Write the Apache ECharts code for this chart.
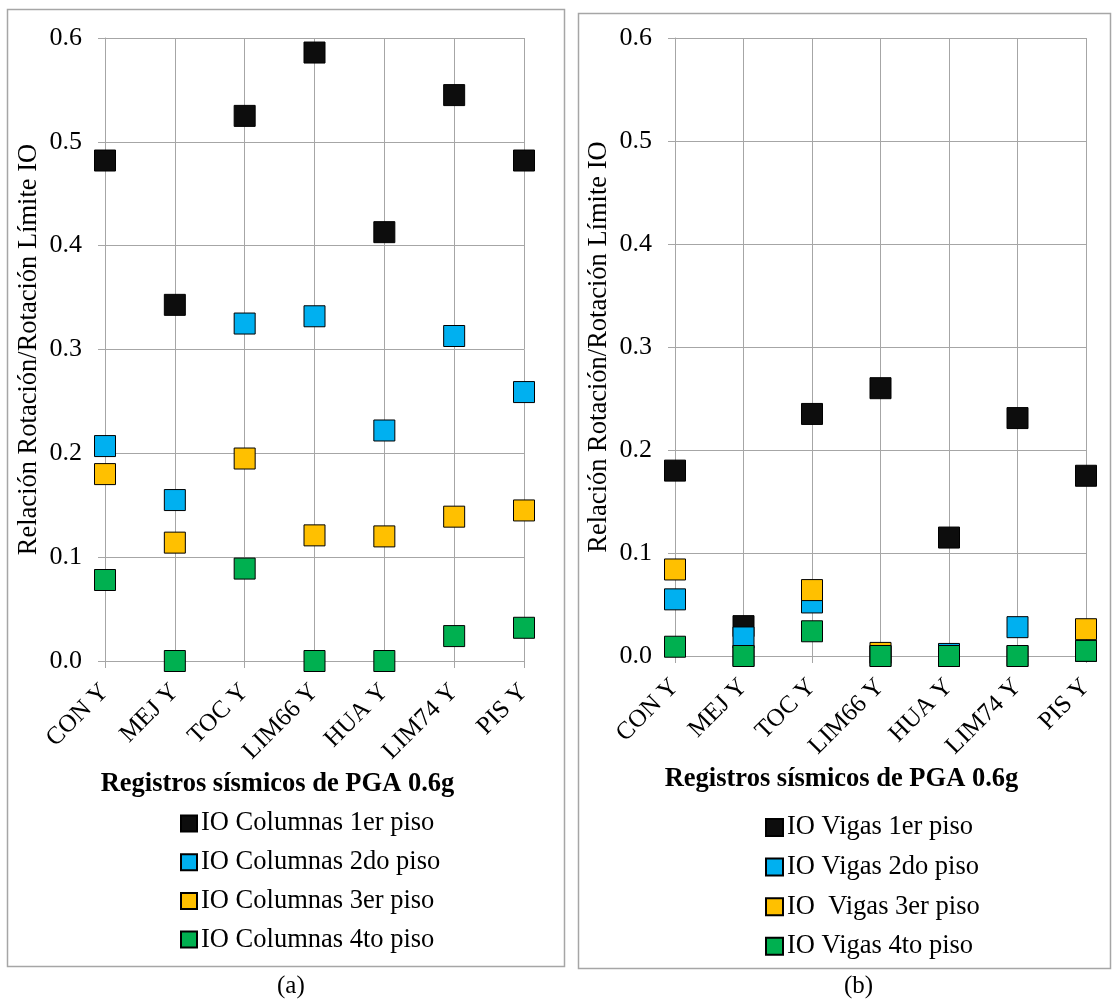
<!DOCTYPE html>
<html>
<head>
<meta charset="utf-8">
<script src="https://cdn.jsdelivr.net/npm/echarts@6/dist/echarts.min.js"></script>
<style>
  html, body { margin: 0; padding: 0; background: #ffffff; }
  #chart { width: 1115px; height: 1001px; }
</style>
</head>
<body>
<div id="chart"></div>
<script>
// Registros sísmicos (PGA 0.6g)
const registros = ['CON Y', 'MEJ Y', 'TOC Y', 'LIM66 Y', 'HUA Y', 'LIM74 Y', 'PIS Y'];
const yTicks = [0, 0.1, 0.2, 0.3, 0.4, 0.5, 0.6];

// (a) Columnas: relación rotación / rotación límite IO
const columnas1 = [0.482, 0.343, 0.525, 0.586, 0.413, 0.545, 0.482];
const columnas2 = [0.207, 0.155, 0.325, 0.332, 0.222, 0.313, 0.259];
const columnas3 = [0.180, 0.114, 0.195, 0.121, 0.120, 0.139, 0.145];
const columnas4 = [0.078, 0.000, 0.089, 0.000, 0.000, 0.024, 0.032];

// (b) Vigas: relación rotación / rotación límite IO
const vigas1 = [0.180, 0.029, 0.235, 0.260, 0.115, 0.231, 0.175];
const vigas2 = [0.055, 0.018, 0.052, 0.000, 0.002, 0.028, 0.005];
const vigas3 = [0.084, 0.000, 0.064, 0.003, 0.000, 0.000, 0.026];
const vigas4 = [0.009, 0.000, 0.024, 0.000, 0.000, 0.000, 0.005];

const namesA = ['IO Columnas 1er piso', 'IO Columnas 2do piso', 'IO Columnas 3er piso', 'IO Columnas 4to piso'];
const namesB = ['IO Vigas 1er piso', 'IO Vigas 2do piso', 'IO  Vigas 3er piso', 'IO Vigas 4to piso'];
const colors = ['#0d0d0d', '#00b0f0', '#ffc000', '#00b050'];

const FONT = 'Liberation Serif';
const GRID_COLOR = '#a6a6a6';

function xAxisFor(gridIndex, shift) {
  return {
    type: 'category',
    gridIndex: gridIndex,
    data: registros,
    boundaryGap: false,
    axisLine: { show: true, lineStyle: { color: GRID_COLOR, width: 1 } },
    axisTick: { show: true, length: 7, lineStyle: { color: GRID_COLOR } },
    splitLine: { show: true, lineStyle: { color: GRID_COLOR, width: 1 } },
    axisLabel: { rotate: 45, margin: 27, color: '#000', fontFamily: FONT, fontSize: 25 },
    name: 'Registros sísmicos de PGA 0.6g',
    nameLocation: 'middle',
    nameGap: 110,
    nameTextStyle: { color: '#000', fontFamily: FONT, fontSize: 26.5, fontWeight: 'bold', padding: [0, shift, 0, 0] }
  };
}

function yAxisFor(gridIndex) {
  return {
    type: 'value',
    gridIndex: gridIndex,
    min: yTicks[0],
    max: yTicks[yTicks.length - 1],
    interval: 0.1,
    axisLine: { show: true, lineStyle: { color: GRID_COLOR, width: 1 } },
    axisTick: { show: true, length: 7, lineStyle: { color: GRID_COLOR } },
    splitLine: { show: true, lineStyle: { color: GRID_COLOR, width: 1 } },
    axisLabel: { margin: 23, color: '#000', fontFamily: FONT, fontSize: 26, formatter: v => v.toFixed(1) },
    name: 'Relación Rotación/Rotación Límite IO',
    nameLocation: 'middle',
    nameGap: 62,
    nameTextStyle: { color: '#000', fontFamily: FONT, fontSize: 26.5 }
  };
}

function seriesFor(names, values, idx) {
  return names.map((n, i) => ({
    name: n,
    type: 'scatter',
    xAxisIndex: idx,
    yAxisIndex: idx,
    data: values[i],
    symbol: 'rect',
    symbolSize: 21,
    itemStyle: { color: colors[i], borderColor: '#000', borderWidth: 1, opacity: 1 },
    emphasis: { disabled: true },
    z: 2 + i
  }));
}

function legendFor(names, left, top, gap, box) {
  return {
    data: names,
    orient: 'vertical',
    left: left,
    top: top,
    padding: 0,
    itemWidth: box,
    itemHeight: box,
    itemGap: gap,
    icon: 'rect',
    selectedMode: false,
    textStyle: { color: '#000', fontFamily: FONT, fontSize: 26.5, lineHeight: 24, padding: [0, 0, 0, -1] }
  };
}

const chart = echarts.init(document.getElementById('chart'), null, { renderer: 'canvas' });
chart.setOption({
  backgroundColor: '#ffffff',
  animation: false,
  grid: [
    { left: 105, right: 1115 - 524, top: 38, bottom: 1001 - 661 },
    { left: 675, right: 1115 - 1086, top: 38, bottom: 1001 - 656 }
  ],
  xAxis: [xAxisFor(0, 74), xAxisFor(1, 78)],
  yAxis: [yAxisFor(0), yAxisFor(1)],
  legend: [legendFor(namesA, 180, 810, 11.7, 16), legendFor(namesB, 765, 814, 12.6, 17)],
  series: seriesFor(namesA, [columnas1, columnas2, columnas3, columnas4], 0)
    .concat(seriesFor(namesB, [vigas1, vigas2, vigas3, vigas4], 1)),
  graphic: [
    { type: 'rect', shape: { x: 7.5, y: 9.5, width: 557, height: 957 }, style: { fill: null, stroke: '#a6a6a6', lineWidth: 1.5 }, silent: true },
    { type: 'rect', shape: { x: 578.5, y: 13.5, width: 532, height: 955 }, style: { fill: null, stroke: '#a6a6a6', lineWidth: 1.5 }, silent: true },
    { type: 'text', left: 277, top: 974, style: { text: '(a)', fill: '#000', fontFamily: FONT, fontSize: 25 } },
    { type: 'text', left: 844, top: 974, style: { text: '(b)', fill: '#000', fontFamily: FONT, fontSize: 25 } }
  ]
});
</script>
</body>
</html>
